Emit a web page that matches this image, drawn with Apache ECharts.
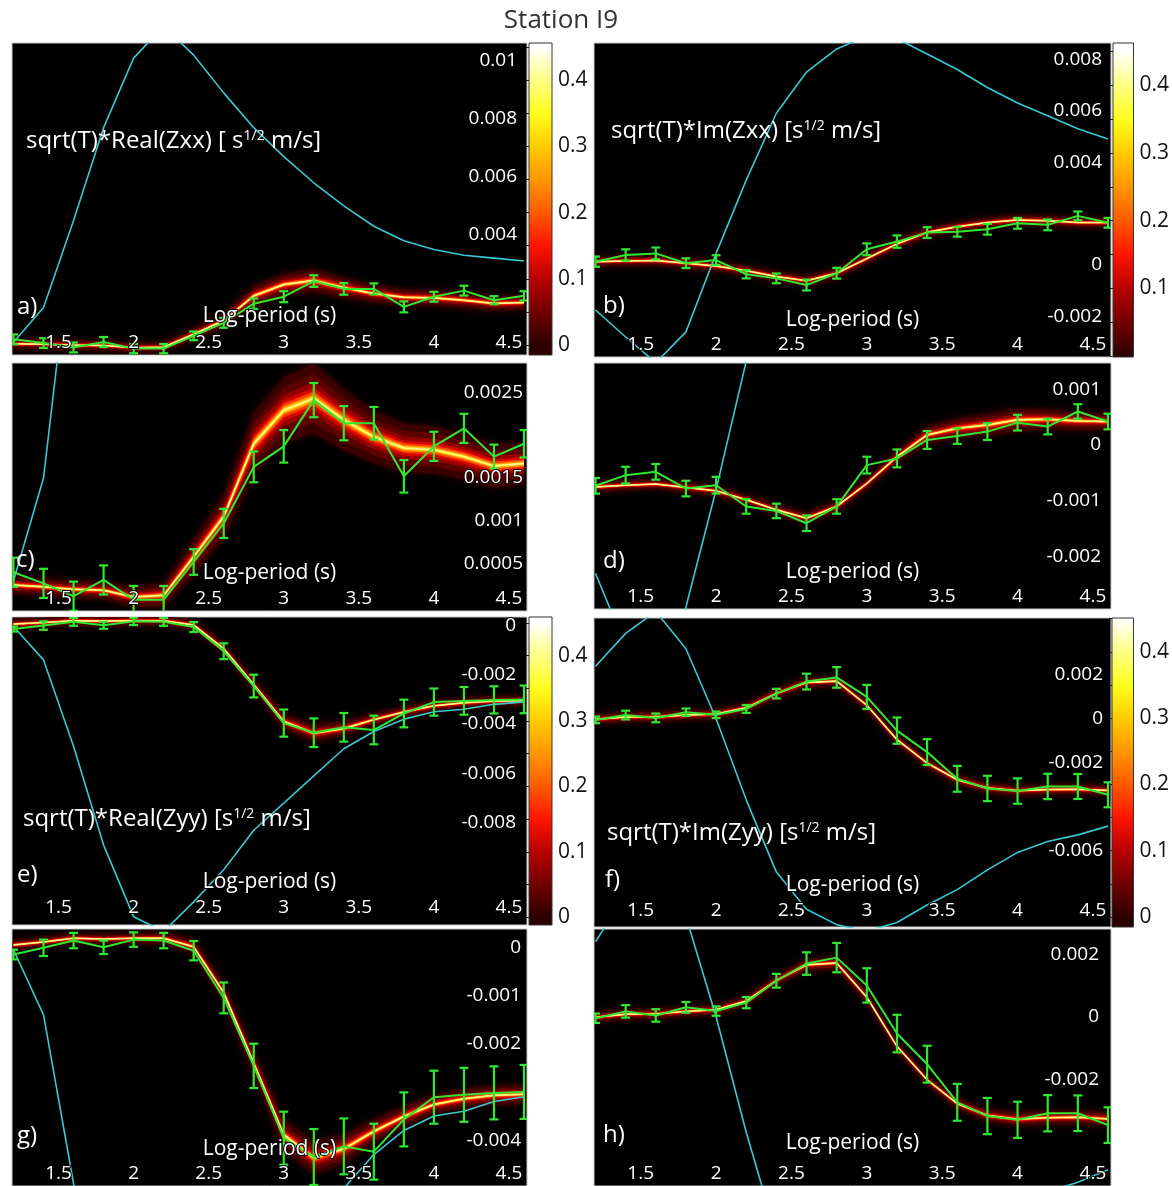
<!DOCTYPE html>
<html>
<head>
<meta charset="utf-8">
<title>Station I9</title>
<script src="https://cdn.jsdelivr.net/npm/echarts@6/dist/echarts.min.js"></script>
<style>
  html, body { margin: 0; padding: 0; background: #fff; }
  #chart { width: 1172px; height: 1186px; }
</style>
</head>
<body>
<div id="chart"></div>
<script>
// Log10 period samples shared by every panel
const periods = [1.2, 1.4, 1.6, 1.8, 2.0, 2.2, 2.4, 2.6, 2.8, 3.0, 3.2, 3.4, 3.6, 3.8, 4.0, 4.2, 4.4, 4.6];

// sqrt(T)*Real(Zxx) — panels a) and c)
const reZxxObs    = [0.00040, 0.00027, 0.00012, 0.00031, 0.00008, 0.00008, 0.00052, 0.00097, 0.00163, 0.00187, 0.00241, 0.00214, 0.00214, 0.00152, 0.00187, 0.00208, 0.00175, 0.00190];
const reZxxErr    = [0.00017, 0.00017, 0.00017, 0.00017, 0.00016, 0.00016, 0.00015, 0.00017, 0.00018, 0.00019, 0.00020, 0.00020, 0.00019, 0.00019, 0.00017, 0.00017, 0.00014, 0.00016];
const reZxxBand   = [0.00025, 0.00023, 0.00020, 0.00019, 0.00011, 0.00013, 0.00058, 0.00105, 0.00190, 0.00229, 0.00243, 0.00218, 0.00198, 0.00185, 0.00183, 0.00175, 0.00164, 0.00167];
const reZxxSpread = [0.00010, 0.00010, 0.00010, 0.00010, 0.00012, 0.00014, 0.00020, 0.00025, 0.00035, 0.00038, 0.00040, 0.00035, 0.00030, 0.00028, 0.00027, 0.00026, 0.00025, 0.00024];
const reZxxRef    = [0.0003, 0.0015, 0.0045, 0.0077, 0.0101, 0.0112, 0.0102, 0.0089, 0.0077, 0.0067, 0.0058, 0.0050, 0.0043, 0.0038, 0.0035, 0.0033, 0.0032, 0.0031];

// sqrt(T)*Im(Zxx) — panel b)
const imZxxObs    = [0.00013, 0.00039, 0.00045, 0.00007, 0.00019, -0.00036, -0.00052, -0.00078, -0.00032, 0.00061, 0.00091, 0.00126, 0.00129, 0.00139, 0.00162, 0.00156, 0.00191, 0.00164];
const imZxxErr    = [0.00020, 0.00022, 0.00023, 0.00019, 0.00019, 0.00016, 0.00019, 0.00021, 0.00021, 0.00023, 0.00024, 0.00021, 0.00019, 0.00021, 0.00021, 0.00021, 0.00017, 0.00019];
const imZxxBand   = [0.00013, 0.00016, 0.00017, 0.00007, -0.00004, -0.00022, -0.00045, -0.00061, -0.00032, 0.00025, 0.00082, 0.00127, 0.00149, 0.00165, 0.00175, 0.00172, 0.00165, 0.00165];
const imZxxSpread = [0.00010, 0.00010, 0.00010, 0.00010, 0.00010, 0.00010, 0.00011, 0.00012, 0.00012, 0.00012, 0.00013, 0.00015, 0.00017, 0.00019, 0.00020, 0.00019, 0.00017, 0.00016];
const imZxxRef    = [-0.00175, -0.0028, -0.0038, -0.0026, 0.00045, 0.0033, 0.0059, 0.0075, 0.0084, 0.0089, 0.0088, 0.0082, 0.0076, 0.0069, 0.0063, 0.0058, 0.0053, 0.0049];

// sqrt(T)*Im(Zxx) — panel d), on its own axis
const imZxxObsD    = [-0.00073, -0.00054, -0.00048, -0.00078, -0.00072, -0.00110, -0.00118, -0.00140, -0.00110, -0.00036, -0.00024, 0.00009, 0.00016, 0.00024, 0.00040, 0.00033, 0.00060, 0.00042];
const imZxxErrD    = [0.00014, 0.00015, 0.00014, 0.00014, 0.00015, 0.00013, 0.00013, 0.00014, 0.00013, 0.00015, 0.00016, 0.00016, 0.00014, 0.00015, 0.00014, 0.00014, 0.00013, 0.00014];
const imZxxBandD   = [-0.00075, -0.00072, -0.00070, -0.00076, -0.00082, -0.00098, -0.00116, -0.00131, -0.00110, -0.00069, -0.00021, 0.00018, 0.00030, 0.00036, 0.00045, 0.00046, 0.00043, 0.00042];
const imZxxSpreadD = [0.00007, 0.00007, 0.00007, 0.00007, 0.00007, 0.00008, 0.00009, 0.00010, 0.00010, 0.00010, 0.00012, 0.00016, 0.00018, 0.00020, 0.00020, 0.00018, 0.00016, 0.00014];
const imZxxRefD    = [-0.0023, -0.0036, -0.0048, -0.0029, -0.0008, 0.0015, 0.0035, 0.0048, 0.0055, 0.0058, 0.0057, 0.0053, 0.0049, 0.0045, 0.0041, 0.0037, 0.0034, 0.0032];

// sqrt(T)*Real(Zyy) — panels e) and g)
const reZyyObs    = [-0.00015, -0.00001, 0.00014, 0.00000, 0.00016, 0.00014, -0.00007, -0.00105, -0.00246, -0.00396, -0.00435, -0.00413, -0.00424, -0.00357, -0.00311, -0.00306, -0.00302, -0.00300];
const reZyyErr    = [0.00010, 0.00017, 0.00016, 0.00014, 0.00015, 0.00016, 0.00020, 0.00032, 0.00046, 0.00055, 0.00058, 0.00058, 0.00058, 0.00056, 0.00055, 0.00056, 0.00055, 0.00056];
const reZyyBand   = [0.00005, 0.00011, 0.00019, 0.00017, 0.00019, 0.00019, 0.00001, -0.00094, -0.00240, -0.00389, -0.00437, -0.00418, -0.00382, -0.00351, -0.00326, -0.00314, -0.00307, -0.00305];
const reZyySpread = [0.00010, 0.00010, 0.00010, 0.00010, 0.00010, 0.00012, 0.00015, 0.00020, 0.00025, 0.00030, 0.00035, 0.00030, 0.00025, 0.00022, 0.00020, 0.00020, 0.00020, 0.00020];
const reZyyRef    = [-0.00005, -0.0014, -0.0049, -0.0089, -0.0118, -0.0124, -0.0112, -0.0099, -0.0083, -0.0072, -0.0061, -0.0050, -0.0043, -0.0038, -0.0035, -0.0034, -0.0032, -0.0031];

// sqrt(T)*Im(Zyy) — panels f) and h)
const imZyyObs    = [-0.00005, 0.00017, 0.00004, 0.00030, 0.00018, 0.00045, 0.00115, 0.00170, 0.00189, 0.00100, -0.00054, -0.00152, -0.00274, -0.00318, -0.00330, -0.00309, -0.00309, -0.00347];
const imZyyErr    = [0.00015, 0.00020, 0.00020, 0.00017, 0.00015, 0.00018, 0.00022, 0.00036, 0.00047, 0.00055, 0.00060, 0.00059, 0.00059, 0.00058, 0.00058, 0.00058, 0.00057, 0.00057];
const imZyyBand   = [-0.00002, 0.00008, 0.00009, 0.00017, 0.00022, 0.00050, 0.00116, 0.00166, 0.00172, 0.00062, -0.00095, -0.00202, -0.00278, -0.00316, -0.00328, -0.00323, -0.00322, -0.00327];
const imZyySpread = [0.00010, 0.00010, 0.00010, 0.00010, 0.00010, 0.00012, 0.00015, 0.00020, 0.00020, 0.00018, 0.00015, 0.00015, 0.00018, 0.00020, 0.00022, 0.00022, 0.00022, 0.00022];
const imZyyRef    = [0.0024, 0.0039, 0.0049, 0.0032, 0.0000, -0.0037, -0.0070, -0.0087, -0.0094, -0.0097, -0.0093, -0.0085, -0.0078, -0.0069, -0.0061, -0.0056, -0.0053, -0.0049];

// Tick labels
const xTicks  = [1.5, 2, 2.5, 3, 3.5, 4, 4.5];
const yTicksA = [0.004, 0.006, 0.008, 0.01];
const yTicksB = [-0.002, 0, 0.004, 0.006, 0.008];
const yTicksC = [0.0005, 0.001, 0.0015, 0.0025];
const yTicksD = [-0.002, -0.001, 0, 0.001];
const yTicksE = [-0.008, -0.006, -0.004, -0.002, 0];
const yTicksF = [-0.006, -0.002, 0, 0.002];
const yTicksG = [-0.004, -0.002, -0.001, 0];
const yTicksH = [-0.002, 0, 0.002];
const cbTicks   = [0, 0.1, 0.2, 0.3, 0.4];
const cbTicksB  = [0.1, 0.2, 0.3, 0.4];
const cbMinor   = [0, 0.05, 0.1, 0.15, 0.2, 0.25, 0.3, 0.35, 0.4, 0.45];

// "hot" colour scale of the probability density
const hotScale = [
  [0.00, '#2c0000'], [0.05, '#700000'], [0.10, '#b80000'], [0.15, '#ff1400'],
  [0.20, '#ff5a00'], [0.25, '#ff9600'], [0.30, '#ffcc00'], [0.35, '#ffff1e'],
  [0.40, '#ffff86'], [0.45, '#ffffff']
];

const FONT = '"Open Sans", "Noto Sans", sans-serif';
const GREEN = '#30e830';
const CYAN = '#3ac8d2';

const panels = [
  { tag: 'a)', box: { left: 12,  top: 43,  width: 515, height: 312 }, yr: [-0.00014, 0.01062], yTicks: yTicksA, lm: 10, xm: 3,
    obs: reZxxObs, err: reZxxErr, band: reZxxBand, spread: reZxxSpread, ref: reZxxRef, nameGap: -49 },
  { tag: 'b)', box: { left: 594, top: 43,  width: 517, height: 314 }, yr: [-0.003577, 0.008631], yTicks: yTicksB, lm: 9, xm: 3,
    obs: imZxxObs, err: imZxxErr, band: imZxxBand, spread: imZxxSpread, ref: imZxxRef, nameGap: -47 },
  { tag: 'c)', box: { left: 12,  top: 363, width: 515, height: 248 }, yr: [-0.0000525, 0.002843], yTicks: yTicksC, lm: 4, xm: 3,
    obs: reZxxObs, err: reZxxErr, band: reZxxBand, spread: reZxxSpread, ref: reZxxRef, nameGap: -48 },
  { tag: 'd)', box: { left: 594, top: 363, width: 517, height: 246 }, yr: [-0.002936, 0.001468], yTicks: yTicksD, lm: 10, xm: 3,
    obs: imZxxObsD, err: imZxxErrD, band: imZxxBandD, spread: imZxxSpreadD, ref: imZxxRefD, nameGap: -47 },
  { tag: 'e)', box: { left: 12,  top: 617, width: 515, height: 308 }, yr: [-0.012137, 0.000337], yTicks: yTicksE, lm: 11, xm: 8,
    obs: reZyyObs, err: reZyyErr, band: reZyyBand, spread: reZyySpread, ref: reZyyRef, nameGap: -53 },
  { tag: 'f)', box: { left: 594, top: 618, width: 517, height: 309 }, yr: [-0.009507, 0.004603], yTicks: yTicksF, lm: 8, xm: 7,
    obs: imZyyObs, err: imZyyErr, band: imZyyBand, spread: imZyySpread, ref: imZyyRef, nameGap: -52 },
  { tag: 'g)', box: { left: 12,  top: 929, width: 515, height: 257 }, yr: [-0.004952, 0.00038], yTicks: yTicksG, lm: 6, xm: 3,
    obs: reZyyObs, err: reZyyErr, band: reZyyBand, spread: reZyySpread, ref: reZyyRef, nameGap: -47 },
  { tag: 'h)', box: { left: 594, top: 929, width: 517, height: 257 }, yr: [-0.005418, 0.002806], yTicks: yTicksH, lm: 12, xm: 3,
    obs: imZyyObs, err: imZyyErr, band: imZyyBand, spread: imZyySpread, ref: imZyyRef, nameGap: -53 }
];

const colorbars = [
  { box: { left: 529,  top: 43,  width: 23, height: 312 }, yr: [-0.015, 0.456], ticks: cbTicks },
  { box: { left: 1113, top: 43,  width: 24, height: 314 }, yr: [-0.001, 0.462], ticks: cbTicksB },
  { box: { left: 529,  top: 617, width: 23, height: 308 }, yr: [-0.012, 0.459], ticks: cbTicks },
  { box: { left: 1112, top: 618, width: 25, height: 309 }, yr: [-0.015, 0.451], ticks: cbTicks }
];

// nested shading levels of the density band: fraction of the spread, colour
const bandLevels = [
  [1.00, '#3a0000'], [0.72, '#5c0000'], [0.48, '#920000'], [0.32, '#d40400'],
  [0.21, '#ff3a00'], [0.13, '#ff8a00'], [0.07, '#ffd41c']
];

const tickText = { color: '#fff', fontSize: 19, fontFamily: FONT, textBorderColor: '#000', textBorderWidth: 2 };

const grids = [], xAxes = [], yAxes = [], series = [];

panels.forEach((p, i) => {
  grids.push(Object.assign({ show: true, backgroundColor: '#000', borderColor: '#c8c8c8', borderWidth: 1 }, p.box));
  xAxes.push({
    type: 'value', gridIndex: i, min: 1.19, max: 4.62, z: 10,
    name: 'Log-period (s)', nameLocation: 'middle', nameGap: p.nameGap, nameMoveOverlap: false,
    nameTextStyle: { color: '#fff', fontSize: 21, fontFamily: FONT, textBorderColor: '#000', textBorderWidth: 2 },
    axisLine: { show: false }, splitLine: { show: false },
    axisTick: { show: false },
    axisLabel: Object.assign({ inside: true, margin: p.xm, customValues: xTicks }, tickText)
  });
  yAxes.push({
    type: 'value', gridIndex: i, min: p.yr[0], max: p.yr[1], position: 'right', z: 10,
    axisLine: { show: false }, splitLine: { show: false },
    axisTick: { show: false },
    axisLabel: Object.assign({ inside: true, margin: p.lm, customValues: p.yTicks }, tickText)
  });

  // probability density of the model responses
  series.push({
    type: 'custom', xAxisIndex: i, yAxisIndex: i, clip: true, silent: true, z: 2,
    data: [[periods[0], p.band[0]]],
    renderItem: (params, api) => {
      const children = [];
      bandLevels.forEach(([f, color], k) => {
        const up = [], lo = [];
        periods.forEach((t, j) => {
          const c = api.coord([t, p.band[j]]);
          const u = api.coord([t, p.band[j] + f * p.spread[j]]);
          const d = api.coord([t, p.band[j] - f * p.spread[j]]);
          up.push([u[0], Math.min(u[1], c[1] - f * 5)]);
          lo.push([d[0], Math.max(d[1], c[1] + f * 5)]);
        });
        const style = { fill: color };
        if (k === 0) { style.shadowBlur = 6; style.shadowColor = '#4a0000'; }
        children.push({ type: 'polygon', shape: { points: up.concat(lo.reverse()) }, style });
      });
      const core = periods.map((t, j) => api.coord([t, p.band[j]]));
      children.push({ type: 'polyline', shape: { points: core }, style: { stroke: '#ffff90', lineWidth: 1.5, fill: null } });
      return { type: 'group', children };
    }
  });

  // reference curve
  series.push({
    type: 'line', xAxisIndex: i, yAxisIndex: i, symbol: 'none', silent: true, z: 3,
    lineStyle: { color: CYAN, width: 1.6 },
    data: periods.map((t, j) => [t, p.ref[j]])
  });

  // observed response
  series.push({
    type: 'line', xAxisIndex: i, yAxisIndex: i, symbol: 'none', silent: true, z: 4,
    lineStyle: { color: GREEN, width: 2 },
    data: periods.map((t, j) => [t, p.obs[j]])
  });

  // error bars
  series.push({
    type: 'custom', xAxisIndex: i, yAxisIndex: i, clip: true, silent: true, z: 5,
    data: periods.map((t, j) => [t, p.obs[j], p.err[j]]),
    encode: { x: 0, y: 1 },
    renderItem: (params, api) => {
      const t = api.value(0), v = api.value(1), e = api.value(2);
      const hi = api.coord([t, v + e]);
      const lo = api.coord([t, v - e]);
      const cap = 4.5;
      const st = { stroke: GREEN, lineWidth: 2.2 };
      return { type: 'group', children: [
        { type: 'line', shape: { x1: hi[0], y1: hi[1], x2: lo[0], y2: lo[1] }, style: st },
        { type: 'line', shape: { x1: hi[0] - cap, y1: hi[1], x2: hi[0] + cap, y2: hi[1] }, style: st },
        { type: 'line', shape: { x1: lo[0] - cap, y1: lo[1], x2: lo[0] + cap, y2: lo[1] }, style: st }
      ] };
    }
  });
});

function hotGradient(lo, hi) {
  const stops = hotScale.map(([v, c]) => ({ offset: Math.min(1, Math.max(0, (v - lo) / (hi - lo))), color: c }));
  if (stops[0].offset > 0) stops.unshift({ offset: 0, color: hotScale[0][1] });
  return new echarts.graphic.LinearGradient(0, 1, 0, 0, stops);
}

colorbars.forEach((cb) => {
  const i = grids.length;
  grids.push(Object.assign({ show: false }, cb.box));
  xAxes.push({ type: 'value', gridIndex: i, min: 0, max: 1, show: false });
  yAxes.push({
    type: 'value', gridIndex: i, min: cb.yr[0], max: cb.yr[1], position: 'right', z: 10,
    axisLine: { show: false }, splitLine: { show: false },
    axisTick: { show: true, inside: true, length: 3, customValues: cbMinor, lineStyle: { color: '#222' } },
    axisLabel: { customValues: cb.ticks, color: '#111', fontSize: 21, margin: 6, fontFamily: FONT }
  });
  series.push({
    type: 'custom', xAxisIndex: i, yAxisIndex: i, silent: true, z: 1,
    data: [[0, cb.yr[0]]],
    renderItem: (params, api) => {
      const a = api.coord([0, cb.yr[1]]);
      const b = api.coord([1, cb.yr[0]]);
      return { type: 'rect', shape: { x: a[0], y: a[1], width: b[0] - a[0], height: b[1] - a[1] },
               style: { fill: hotGradient(cb.yr[0], cb.yr[1]), stroke: '#333', lineWidth: 1 } };
    }
  });
});

// titles and panel annotations
const quantityRich = {
  m: { fontSize: 24, fill: '#fff', fontFamily: FONT },
  s: { fontSize: 14, fill: '#fff', fontFamily: FONT, verticalAlign: 'top' }
};
function quantity(x, y, before, after) {
  return { type: 'text', x, y, z: 100,
    style: { text: '{m|' + before + '}{s|1/2}{m|' + after + '}', rich: quantityRich, verticalAlign: 'middle' } };
}
function tag(x, y, text) {
  return { type: 'text', x, y, z: 100,
    style: { text, fill: '#fff', fontSize: 24, fontFamily: FONT, verticalAlign: 'middle' } };
}

const graphics = [
  { type: 'text', x: 561, y: 21, z: 100,
    style: { text: 'Station I9', fill: '#333', fontSize: 26, fontFamily: FONT, align: 'center', verticalAlign: 'middle' } },
  quantity(26, 141, 'sqrt(T)*Real(Zxx) [ s', ' m/s]'),
  quantity(611, 131, 'sqrt(T)*Im(Zxx) [s', ' m/s]'),
  quantity(23, 819, 'sqrt(T)*Real(Zyy) [s', ' m/s]'),
  quantity(607, 833, 'sqrt(T)*Im(Zyy) [s', ' m/s]'),
  tag(17, 307, 'a)'), tag(603, 306, 'b)'),
  tag(16, 560, 'c)'), tag(603, 561, 'd)'),
  tag(17, 875, 'e)'), tag(605, 880, 'f)'),
  tag(17, 1136, 'g)'), tag(603, 1135, 'h)')
];

const chart = echarts.init(document.getElementById('chart'), null, { renderer: 'canvas' });
chart.setOption({
  animation: false,
  backgroundColor: '#fff',
  grid: grids,
  xAxis: xAxes,
  yAxis: yAxes,
  series,
  graphic: graphics
});
</script>
</body>
</html>
